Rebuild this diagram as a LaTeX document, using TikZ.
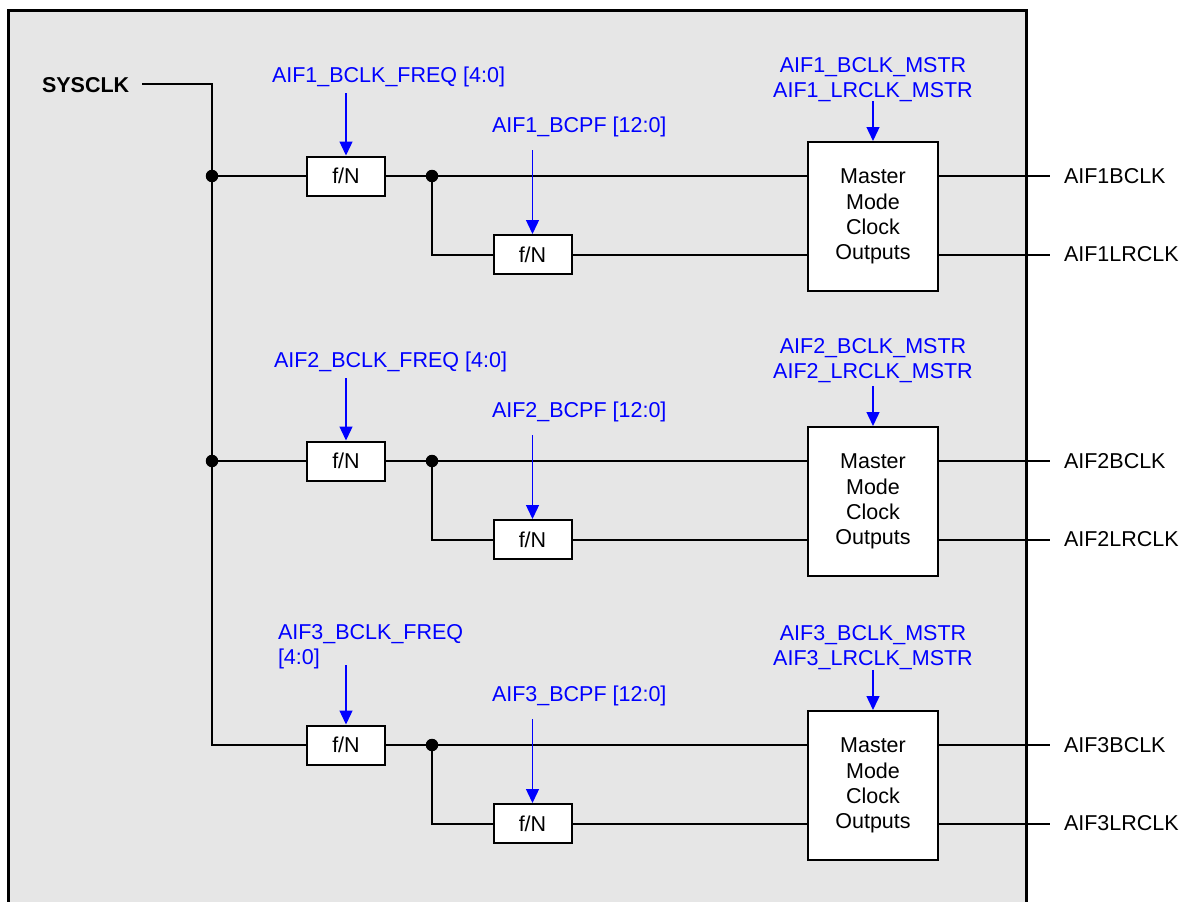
\documentclass[tikz,border=0pt]{standalone}
\usepackage{fontspec}
\setmainfont{Liberation Sans}
\usetikzlibrary{arrows.meta}
\definecolor{bg}{HTML}{E6E6E6}
\definecolor{ctl}{RGB}{0,0,255}
\begin{document}
\begin{tikzpicture}[x=1pt,y=-1pt,
  wire/.style={line width=2pt,black},
  ctrl/.style={line width=1.4pt,ctl,-{Triangle[width=13pt,length=14pt]}},
  divbox/.style={draw,line width=2pt,fill=white,minimum width=78pt,minimum height=39pt,inner sep=0pt,font=\fontsize{21.5}{25}\selectfont},
  mbox/.style={draw,line width=2pt,fill=white,minimum width=130pt,minimum height=149pt,inner sep=0pt,align=center,font=\fontsize{21.5}{25.3}\selectfont},
  dot/.style={circle,fill=black,minimum size=12.5pt,inner sep=0pt},
  lbl/.style={inner sep=0pt,outer sep=0pt,font=\fontsize{21.5}{25}\selectfont},
  clbl/.style={lbl,text=ctl},
]
\useasboundingbox (0,0) rectangle (1181,902);
\begin{scope}
\clip (0,0) rectangle (1181,902);
\draw[line width=3pt,fill=bg] (8,10) rectangle (1026,940);
\end{scope}

% SYSCLK
\node[lbl,anchor=base west,font=\fontsize{21.5}{25}\selectfont\bfseries] (sys) at (42,92) {SYSCLK};
\coordinate (sysend) at (142,84);
\node[dot] (j1) at (212,176) {};
\node[dot] (j2) at (212,461) {};
\coordinate (c3) at (212,745);

\foreach \i/\o/\mt in {1/0/57,2/285/338,3/569/625}{
  \node[divbox] (fa\i) at (346,{176+\o}) {f/N};
  \node[divbox] (fb\i) at (532.5,{254.5+\o}) {f/N};
  \node[mbox] (mm\i) at (873,{216.5+\o}) {Master\\Mode\\Clock\\Outputs};
  \node[dot] (dt\i) at (432,{176+\o}) {};
  \node[lbl,anchor=west] (oa\i) at (1064,{176+\o}) {AIF\i BCLK};
  \node[lbl,anchor=west] (ob\i) at (1064,{254+\o}) {AIF\i LRCLK};
  \draw[wire] (fa\i.east) -- (mm\i.west |- fa\i.east);
  \draw[wire] (dt\i.center) |- (fb\i.west);
  \draw[wire] (fb\i.east) -- (mm\i.west |- fb\i.east);
  \draw[wire] (mm\i.east |- oa\i.west) -- ([xshift=-14pt]oa\i.west);
  \draw[wire] (mm\i.east |- fb\i.east) -- ([xshift=-14pt]oa\i.west |- fb\i.east);
  % control labels
  \node[clbl,anchor=base west] (bp\i) at (492,{132+\o}) {AIF\i\_BCPF [12:0]};
  \coordinate (bps\i) at (532.5,{150+\o});
  \draw[ctrl] (bps\i) -- (fb\i.north);
  \node[clbl,anchor=north,align=center] (ms\i) at (873,\mt) {AIF\i\_BCLK\_MSTR\\AIF\i\_LRCLK\_MSTR};
  \coordinate (mss\i) at (873,{101+\o});
  \draw[ctrl] (mss\i) -- (mm\i.north);
}

\node[clbl,anchor=base west] (fq1) at (272,82) {AIF1\_BCLK\_FREQ [4:0]};
\node[clbl,anchor=base west] (fq2) at (274,367) {AIF2\_BCLK\_FREQ [4:0]};
\node[clbl,anchor=north west,align=left] (fq3) at (278,624) {AIF3\_BCLK\_FREQ\\{[4:0]}};
\coordinate (fqs1) at (346,93);
\coordinate (fqs2) at (346,378);
\coordinate (fqs3) at (346,665);
\foreach \i in {1,2,3}{\draw[ctrl] (fqs\i) -- (fa\i.north);}

\draw[wire] (sysend) -| (c3) -- (fa3.west);
\draw[wire] (j1.center) -- (fa1.west);
\draw[wire] (j2.center) -- (fa2.west);
\end{tikzpicture}
\end{document}
